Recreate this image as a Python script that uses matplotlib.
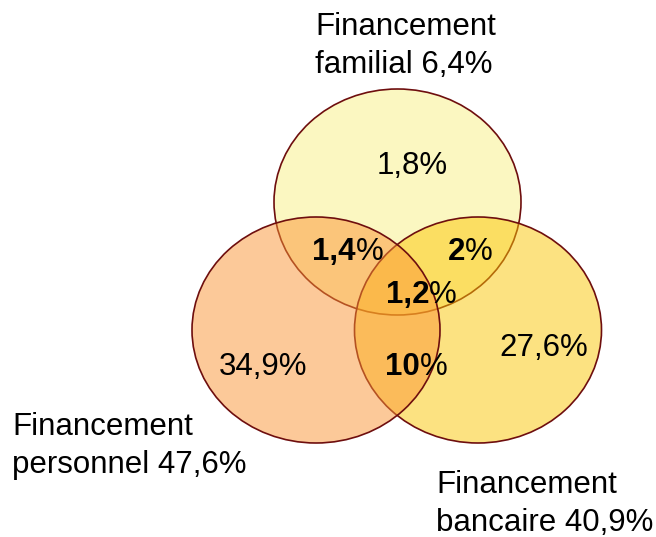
import matplotlib.pyplot as plt
from matplotlib.patches import Ellipse

# data
set_names = ["Financement\nfamilial", "Financement\npersonnel", "Financement\nbancaire"]
set_totals = ["6,4%", "47,6%", "40,9%"]
# single-set regions (normal) and overlap regions (bold number)
single_values = ["1,8%", "34,9%", "27,6%"]
overlap_values = ["1,4", "2", "1,2", "10"]

# layout in pixels (y goes down)
circles = [(397.5, 202, 247, 226), (316, 330, 248, 226), (478, 330, 247, 226)]
face_colors = ["#F9F18580", "#FB953580", "#FBC70580"]
edge_color = "#6E0E0E"
name_pos = [(315, 35), (12, 435), (436, 493)]
single_pos = [(412, 174), (263, 375), (544, 356)]
overlap_pos = [(356, 260), (465, 260), (429, 303), (420, 375)]

plt.rcParams['font.family'] = ['Liberation Sans', 'DejaVu Sans']
fs = 22.5

fig = plt.figure(figsize=(6.56, 5.37), dpi=100)
ax = fig.add_axes([0, 0, 1, 1])
ax.set_xlim(0, 656)
ax.set_ylim(537, 0)
ax.axis('off')

# draw order: top, right, left
for i in [0, 2, 1]:
    cx, cy, w, h = circles[i]
    ax.add_patch(Ellipse((cx, cy), w, h, facecolor=face_colors[i],
                         edgecolor=edge_color, linewidth=1.2))

for i in range(3):
    x, y = name_pos[i]
    lines = set_names[i].split("\n")
    ax.text(x, y, lines[0], fontsize=fs, ha='left', va='baseline')
    ax.text(x, y + 38, lines[1] + " " + set_totals[i], fontsize=fs, ha='left', va='baseline')

for v, (x, y) in zip(single_values, single_pos):
    ax.text(x, y, v, fontsize=fs, ha='center', va='baseline')

for v, (x, y) in zip(overlap_values, overlap_pos):
    ax.text(x, y, v, fontsize=fs, fontweight='bold', ha='right', va='baseline')
    ax.text(x, y, "%", fontsize=fs, ha='left', va='baseline')

fig.savefig("out.png", dpi=100)
